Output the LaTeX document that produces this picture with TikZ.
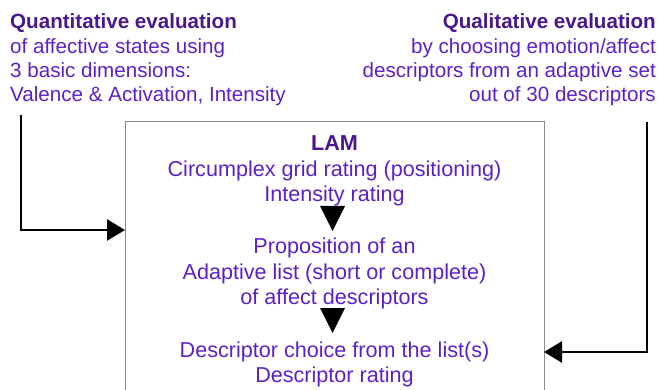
\documentclass[tikz,border=0pt]{standalone}
\usepackage{fontspec}
\setmainfont{Liberation Sans}
\usetikzlibrary{arrows.meta}
\definecolor{headcol}{RGB}{72,24,140}
\definecolor{textcol}{RGB}{92,32,200}
\definecolor{boxcol}{RGB}{140,140,140}
\tikzset{
  heading/.style={inner sep=0pt, text=headcol, font=\fontsize{20.6}{24}\selectfont\bfseries},
  sidetext/.style={inner sep=0pt, text=textcol, font=\fontsize{20.6}{24}\selectfont},
  boxtext/.style={inner sep=0pt, text=textcol, font=\fontsize{21.6}{25}\selectfont, anchor=base},
  boxhead/.style={boxtext, text=headcol, font=\fontsize{21.6}{25}\selectfont\bfseries},
  feed/.style={line width=2.4pt, -{Triangle[length=18pt,width=21pt]}},
  stepmark/.style={fill=black}
}
\begin{document}
\begin{tikzpicture}[x=1pt,y=-1pt]
\useasboundingbox (0,0) rectangle (661,390);

% LAM frame (runs past the lower edge)
\begin{scope}
\clip (0,0) rectangle (661,390);
\draw[boxcol, line width=1pt] (125,400) -- (125,122) -- (544,122) -- (544,400);
\end{scope}
\coordinate (lamW) at (125,230);
\coordinate (lamE) at (544,352);

% quantitative side
\node[heading, anchor=base west]  (q1) at (10,29)  {Quantitative evaluation};
\node[sidetext, anchor=base west] (q2) at (10,54)  {of affective states using};
\node[sidetext, anchor=base west] (q3) at (10,78)  {3 basic dimensions:};
\node[sidetext, anchor=base west] (q4) at (10,102) {Valence \& Activation, Intensity};

% qualitative side
\node[heading, anchor=base east]  (p1) at (656,29)  {Qualitative evaluation};
\node[sidetext, anchor=base east] (p2) at (656,54)  {by choosing emotion/affect};
\node[sidetext, anchor=base east] (p3) at (656,78)  {descriptors from an adaptive set};
\node[sidetext, anchor=base east] (p4) at (656,102) {out of 30 descriptors};

% LAM contents
\node[boxhead] (l0) at (334.5,151) {LAM};
\node[boxtext] (l1) at (334.5,177) {Circumplex grid rating (positioning)};
\node[boxtext] (l2) at (334.5,201) {Intensity rating};
\node[boxtext] (l3) at (334.5,253) {Proposition of an};
\node[boxtext] (l4) at (334.5,279) {Adaptive list (short or complete)};
\node[boxtext] (l5) at (334.5,304) {of affect descriptors};
\node[boxtext] (l6) at (334.5,357) {Descriptor choice from the list(s)};
\node[boxtext] (l7) at (334.5,382) {Descriptor rating};

% step markers
\fill[stepmark] (320,206) -- (345,206) -- (332.5,231) -- cycle;
\fill[stepmark] (320,308) -- (345,308) -- (332.5,333) -- cycle;

% feeds into the frame
\coordinate (qstart) at (21,115);
\coordinate (pstart) at (647,122);
\draw[feed] (qstart) |- (lamW);
\draw[feed] (pstart) |- (lamE);
\end{tikzpicture}
\end{document}
